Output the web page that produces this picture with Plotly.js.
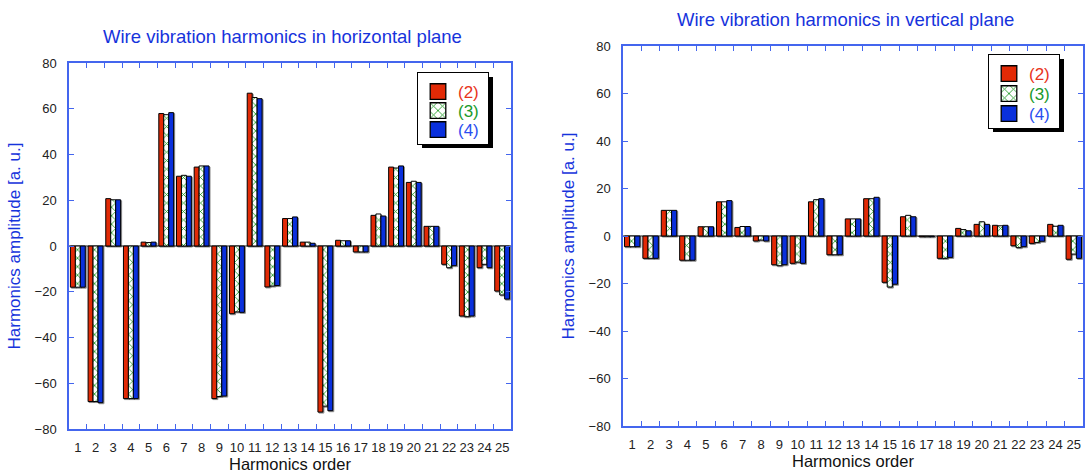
<!DOCTYPE html>
<html>
<head>
<meta charset="utf-8">
<script src="https://cdn.plot.ly/plotly-3.0.1.min.js"></script>
<style>
  html, body { margin: 0; padding: 0; background: #fff; }
  #chart { width: 1086px; height: 475px; }
  .trace.bars .point path { filter: drop-shadow(1px 1px 0 rgba(0,0,0,0.45)); }
</style>
</head>
<body>
<div id="chart"></div>
<script>
// ---- data ----
const categories = ['1','2','3','4','5','6','7','8','9','10','11','12','13','14','15','16','17','18','19','20','21','22','23','24','25'];
const seriesNames = ['(2)', '(3)', '(4)'];

// horizontal plane
const hor2 = [-18, -68, 20.7, -66.7, 1.7, 57.9, 30.5, 34.5, -66.7, -29.6, 66.8, -17.9, 12.0, 1.7, -72.6, 2.5, -2.6, 13.4, 34.5, 27.8, 8.6, -8.0, -30.6, -9.5, -19.7];
const hor3 = [-18, -68, 20.2, -66.7, 1.5, 57.4, 30.9, 35.0, -65.8, -28.8, 64.9, -17.5, 12.0, 1.7, -70.0, 2.3, -2.6, 14.0, 34.1, 28.3, 8.6, -9.5, -30.9, -8.0, -21.4];
const hor4 = [-18, -68.5, 20.2, -66.7, 1.7, 58.3, 30.5, 35.0, -65.6, -29.0, 64.4, -17.3, 12.7, 1.2, -72.0, 2.3, -2.6, 13.1, 35.0, 27.8, 8.6, -8.6, -30.6, -9.5, -23.2];

// vertical plane
const ver2 = [-4.5, -9.4, 10.8, -10.2, 3.9, 14.4, 3.6, -2.1, -12.1, -11.5, 14.4, -7.9, 7.2, 15.7, -19.5, 8.1, -0.3, -9.4, 3.2, 4.9, 4.5, -4.1, -3.1, 4.9, -9.8];
const ver3 = [-4.5, -9.4, 10.8, -10.2, 3.9, 14.4, 4.0, -1.7, -12.5, -11.0, 15.3, -7.9, 7.2, 15.7, -21.5, 8.7, -0.3, -9.4, 2.7, 6.0, 4.3, -4.9, -2.7, 4.1, -7.6];
const ver4 = [-4.5, -9.4, 10.8, -10.2, 3.9, 14.9, 4.0, -2.1, -12.1, -11.5, 15.7, -7.9, 7.2, 16.3, -20.3, 8.1, -0.3, -9.0, 2.2, 4.9, 4.5, -4.5, -2.2, 4.5, -9.4];

const yTickVals = [-80, -60, -40, -20, 0, 20, 40, 60, 80];

// ---- styles ----
const RED = '#e22a06', GREEN = '#17961c', BLUE = '#0a30dc';
const TXT_COL = ['#e8331a', '#1a9a2a', '#2a4ef0'];
const AXIS_COL = '#4466ee';
const TITLE_COL = '#1633dc';
const FONT = 'Liberation Sans, Arial, sans-serif';

function barTrace(vals, idx, xa, ya, leg) {
  const fills = [
    { color: RED },
    { color: '#ffffff', pattern: { shape: 'x', fgcolor: GREEN, bgcolor: '#ffffff', size: 6, solidity: 0.25 } },
    { color: BLUE }
  ];
  const m = Object.assign({ line: { color: '#000', width: 1 } }, fills[idx]);
  return {
    type: 'bar',
    x: categories,
    y: vals,
    name: '<span style="color:' + TXT_COL[idx] + '">' + seriesNames[idx] + '</span>',
    marker: m,
    xaxis: xa, yaxis: ya,
    legend: leg,
    hoverinfo: 'x+y'
  };
}

const data = [
  barTrace(hor2, 0, 'x', 'y', 'legend'),
  barTrace(hor3, 1, 'x', 'y', 'legend'),
  barTrace(hor4, 2, 'x', 'y', 'legend'),
  barTrace(ver2, 0, 'x2', 'y2', 'legend2'),
  barTrace(ver3, 1, 'x2', 'y2', 'legend2'),
  barTrace(ver4, 2, 'x2', 'y2', 'legend2')
];

const W = 1086, H = 475;
function px(x) { return x / W; }
function py(y) { return (H - y) / H; }

function xAxis(dom, anchor) {
  return {
    domain: dom, anchor: anchor,
    type: 'category',
    range: [-0.5, 24.5],
    showline: true, linecolor: AXIS_COL, linewidth: 1.5, mirror: 'ticks',
    ticks: 'inside', ticklen: 5, tickwidth: 1, tickcolor: AXIS_COL,
    tickson: 'boundaries',
    tickangle: 0,
    showgrid: false, zeroline: false,
    tickfont: { family: FONT, size: 13, color: '#222' },
    ticklabelstandoff: 6,
    title: { text: 'Harmonics order', font: { family: FONT, size: 16.5, color: '#111' }, standoff: 4 },
    automargin: false,
    fixedrange: true
  };
}
function yAxis(dom, anchor) {
  return {
    domain: dom, anchor: anchor,
    range: [-80, 80],
    tickvals: yTickVals,
    showline: true, linecolor: AXIS_COL, linewidth: 1.5, mirror: 'ticks',
    ticks: 'inside', ticklen: 5, tickwidth: 1, tickcolor: AXIS_COL,
    showgrid: false,
    zeroline: true, zerolinecolor: '#8a8a8a', zerolinewidth: 1.5,
    tickfont: { family: FONT, size: 13, color: '#222' },
    ticklabelstandoff: 8,
    title: { text: 'Harmonics amplitude [a. u.]', font: { family: FONT, size: 17, color: TITLE_COL }, standoff: 10 },
    automargin: false,
    fixedrange: true
  };
}

const legendBase = {
  bgcolor: '#ffffff', bordercolor: '#000', borderwidth: 1,
  font: { family: FONT, size: 17 },
  traceorder: 'normal', xanchor: 'left', yanchor: 'top',
  itemclick: false, itemdoubleclick: false
};

const layout = {
  width: W, height: H,
  margin: { l: 0, r: 0, t: 0, b: 0 },
  paper_bgcolor: '#fff', plot_bgcolor: '#fff',
  showlegend: true,
  barmode: 'group', bargap: 0.16, bargroupgap: 0,
  font: { family: FONT },
  xaxis: xAxis([px(69), px(511)], 'y'),
  yaxis: yAxis([py(429), py(63)], 'x'),
  xaxis2: xAxis([px(623), px(1083)], 'y2'),
  yaxis2: yAxis([py(426), py(46)], 'x2'),
  legend: Object.assign({}, legendBase, { x: px(417), y: py(72) }),
  legend2: Object.assign({}, legendBase, { x: px(988), y: py(54) }),
  annotations: [
    { text: 'Wire vibration harmonics in horizontal plane', xref: 'paper', yref: 'paper',
      x: px(282), y: py(37), xanchor: 'center', yanchor: 'middle', showarrow: false,
      font: { family: FONT, size: 18.5, color: TITLE_COL } },
    { text: 'Wire vibration harmonics in vertical plane', xref: 'paper', yref: 'paper',
      x: px(845), y: py(19), xanchor: 'center', yanchor: 'middle', showarrow: false,
      font: { family: FONT, size: 18.5, color: TITLE_COL } }
  ]
};

// compact legend rows, enlarge symbols, add drop shadow (purely cosmetic)
function tweakLegend(lg, rowStep) {
  const items = Array.from(lg.querySelectorAll('g.traces'));
  const bg = lg.querySelector('rect.bg');
  if (!bg || items.length < 2) return;
  const ys = items.map(function (it) {
    const m = /translate\(\s*([-\d.]+)[ ,]+([-\d.]+)/.exec(it.getAttribute('transform') || '');
    return m ? [parseFloat(m[1]), parseFloat(m[2])] : [0, 0];
  });
  const oldStep = ys[1][1] - ys[0][1];
  const y0 = ys[0][1] + 1;
  items.forEach(function (it, i) {
    it.setAttribute('transform', 'translate(' + ys[i][0] + ',' + (y0 + i * rowStep) + ')');
    it.querySelectorAll('g.legendpoints path').forEach(function (p) {
      const t = p.getAttribute('transform') || '';
      p.setAttribute('transform', t + ' scale(1.3)');
    });
  });
  const h = parseFloat(bg.getAttribute('height'));
  bg.setAttribute('height', h - (items.length - 1) * (oldStep - rowStep) - 3);
  const w = parseFloat(bg.getAttribute('width'));
  bg.setAttribute('width', w + 4);
  const sh = bg.cloneNode(false);
  sh.setAttribute('class', 'legend-shadow');
  sh.style.fill = '#000';
  sh.style.stroke = 'none';
  sh.setAttribute('transform', 'translate(4,4)');
  bg.parentNode.insertBefore(sh, bg);
}

Plotly.newPlot('chart', data, layout, { displayModeBar: false }).then(function (gd) {
  const legs = gd.querySelectorAll('g.infolayer > g.legend, g.infolayer > g.legend2');
  legs.forEach(function (lg) {
    tweakLegend(lg, lg.classList.contains('legend2') ? 20 : 19);
  });
});
</script>
</body>
</html>
